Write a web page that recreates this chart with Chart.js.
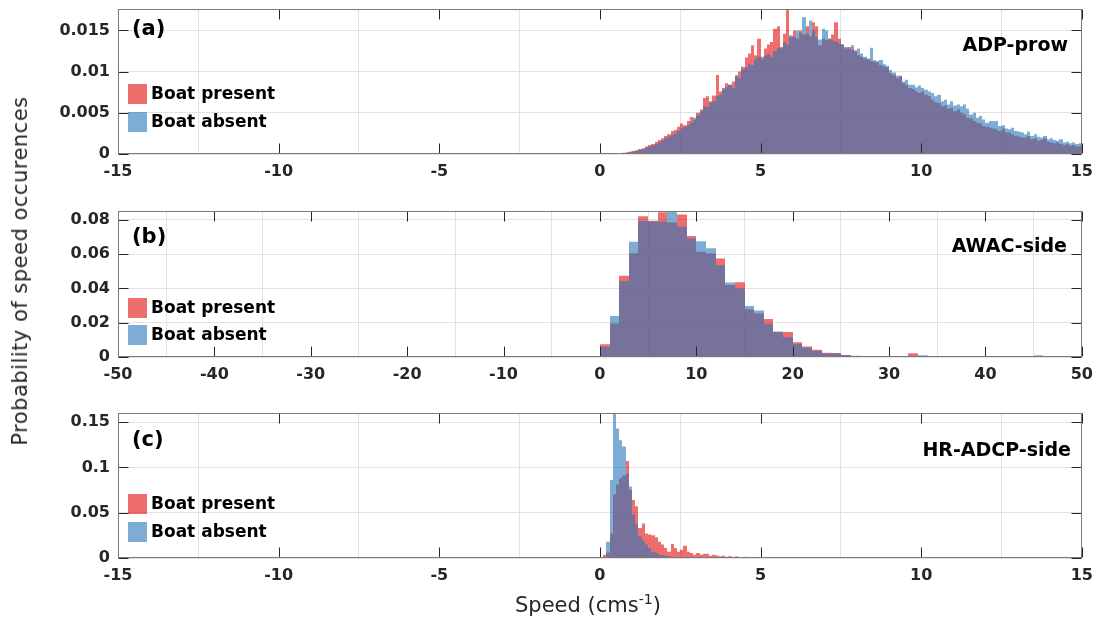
<!DOCTYPE html>
<html>
<head>
<meta charset="utf-8">
<script src="https://cdn.jsdelivr.net/npm/chart.js@4.4.1/dist/chart.umd.min.js"></script>
<style>
  html, body { margin: 0; padding: 0; background: #fff; }
  body { position: relative; width: 1101px; height: 627px; overflow: hidden; font-family: "DejaVu Sans", sans-serif; }
  canvas { position: absolute; left: 0; }
  #ytitle { position: absolute; left: 20px; top: 271px; transform: translate(-50%, -50%) rotate(-90deg);
            white-space: nowrap; font-size: 21px; letter-spacing: 0.5px; color: #262626; }
  #xtitle { position: absolute; left: 515px; top: 593px; font-size: 21px; line-height: 24px; color: #262626; white-space: nowrap; }
  #xtitle sup { font-size: 14px; line-height: 0; }
</style>
</head>
<body>
<canvas id="adp" width="1101" height="205" style="top:-20px"></canvas>
<canvas id="awac" width="1101" height="207" style="top:180px"></canvas>
<canvas id="hr" width="1101" height="215" style="top:385px"></canvas>
<div id="ytitle">Probability of speed occurences</div>
<div id="xtitle">Speed (cms<sup>-1</sup>)</div>

<script>
// ---- data ----
// (a) ADP-prow, bins of 0.1 cm/s starting at 0
const adpBinStart = 0
const adpBinWidth = 0.1
const adpPresent = [
  0, 0, 0, 0, 0.00004, 0.00007, 0.0001, 0.00015, 0.0002, 0.0003,
  0.00035, 0.00045, 0.0006, 0.0007, 0.0009, 0.0011, 0.0012, 0.0015, 0.0017, 0.0019,
  0.0022, 0.0024, 0.0028, 0.0029, 0.0033, 0.0037, 0.0035, 0.0040, 0.0045, 0.0042,
  0.0050, 0.0054, 0.0068, 0.0070, 0.0064, 0.0071, 0.0096, 0.0076, 0.0080, 0.0086,
  0.0084, 0.0088, 0.0094, 0.0100, 0.0106, 0.0117, 0.0122, 0.0132, 0.0120, 0.0140,
  0.0118, 0.0128, 0.0133, 0.0136, 0.0152, 0.0155, 0.0130, 0.0146, 0.0176, 0.0142,
  0.0150, 0.0140, 0.0150, 0.0145, 0.0155, 0.0143, 0.0160, 0.0155, 0.0132, 0.0140,
  0.0138, 0.0140, 0.0145, 0.0160, 0.0140, 0.0133, 0.0128, 0.0130, 0.0127, 0.0126,
  0.0120, 0.0118, 0.0116, 0.0115, 0.0113, 0.0112, 0.0111, 0.0108, 0.0106, 0.0105,
  0.0098, 0.0096, 0.0092, 0.0095, 0.0086, 0.0084, 0.0080, 0.0079, 0.0076, 0.0074,
  0.0076, 0.0072, 0.0070, 0.0066, 0.0063, 0.0062, 0.0058, 0.0059, 0.0055, 0.0056,
  0.0052, 0.0054, 0.0050, 0.0048, 0.0044, 0.0043, 0.0040, 0.0038, 0.0037, 0.0034,
  0.0033, 0.0032, 0.0031, 0.0030, 0.0028, 0.0031, 0.0026, 0.0026, 0.0024, 0.0022,
  0.0021, 0.0020, 0.0020, 0.0022, 0.0018, 0.0019, 0.0016, 0.0017, 0.0019, 0.0015,
  0.0014, 0.0013, 0.0014, 0.0012, 0.0011, 0.0012, 0.0010, 0.0011, 0.0009, 0.0010
]
const adpAbsent = [
  0, 0, 0, 0, 0.00003, 0.00005, 0.00008, 0.00012, 0.00015, 0.00025,
  0.0003, 0.0004, 0.0005, 0.0006, 0.0008, 0.0009, 0.0010, 0.0012, 0.0014, 0.0016,
  0.0019, 0.0021, 0.0023, 0.0025, 0.0028, 0.0031, 0.0033, 0.0035, 0.0038, 0.0044,
  0.0047, 0.0052, 0.0058, 0.0057, 0.0062, 0.0064, 0.0070, 0.0072, 0.0078, 0.0081,
  0.0084, 0.0080, 0.0096, 0.0092, 0.0103, 0.0105, 0.0109, 0.0108, 0.0115, 0.0118,
  0.0115, 0.0120, 0.0121, 0.0117, 0.0125, 0.0129, 0.0128, 0.0136, 0.0133, 0.0144,
  0.0142, 0.0150, 0.0147, 0.0166, 0.0146, 0.0162, 0.0150, 0.0142, 0.0139, 0.0152,
  0.0150, 0.0140, 0.0138, 0.0137, 0.0134, 0.0133, 0.0130, 0.0128, 0.0132, 0.0124,
  0.0128, 0.0122, 0.0118, 0.0116, 0.0129, 0.0114, 0.0113, 0.0114, 0.0109, 0.0107,
  0.0102, 0.0099, 0.0095, 0.0094, 0.0088, 0.0090, 0.0084, 0.0084, 0.0081, 0.0083,
  0.0080, 0.0078, 0.0076, 0.0074, 0.0070, 0.0072, 0.0064, 0.0066, 0.0060, 0.0064,
  0.0059, 0.0060, 0.0058, 0.0060, 0.0055, 0.0048, 0.0050, 0.0044, 0.0046, 0.0042,
  0.0038, 0.0040, 0.0040, 0.0040, 0.0034, 0.0035, 0.0031, 0.0030, 0.0032, 0.0028,
  0.0027, 0.0026, 0.0024, 0.0027, 0.0022, 0.0024, 0.0021, 0.0020, 0.0022, 0.0018,
  0.0019, 0.0017, 0.0016, 0.0018, 0.0014, 0.0015, 0.0013, 0.0014, 0.0012, 0.0013
]
const adpXTicks = [-15, -10, -5, 0, 5, 10, 15]
const adpYTicks = [0, 0.005, 0.01, 0.015]

// (b) AWAC-side, bins of 1 cm/s starting at 0
const awacBinStart = 0
const awacBinWidth = 1
const awacPresent = [
  0.0074, 0.0196, 0.0474, 0.0605, 0.0822, 0.0795, 0.0844, 0.0785, 0.0832, 0.0706,
  0.0614, 0.0604, 0.0575, 0.0420, 0.0436, 0.0278, 0.0255, 0.0222, 0.0148, 0.0146,
  0.0086, 0.0062, 0.0042, 0.0025, 0.0024, 0.0012, 0.0006, 0.0003, 0.0002, 0.0001,
  0.0001, 0.0002, 0.0022, 0.0005, 0.0001, 0.0001, 0, 0, 0, 0,
  0, 0, 0, 0, 0, 0.0002, 0, 0
]
const awacAbsent = [
  0.0060, 0.0239, 0.0443, 0.0672, 0.0794, 0.0790, 0.0789, 0.0852, 0.0760, 0.0692,
  0.0676, 0.0634, 0.0536, 0.0435, 0.0400, 0.0297, 0.0272, 0.0193, 0.0148, 0.0115,
  0.0076, 0.0054, 0.0036, 0.0020, 0.0020, 0.0012, 0.0008, 0.0005, 0.0003, 0.0002,
  0.0001, 0.0001, 0.0002, 0.0010, 0.0001, 0.0003, 0.0001, 0, 0, 0,
  0, 0, 0, 0, 0, 0.0010, 0.0003, 0.0001
]
const awacXTicks = [-50, -40, -30, -20, -10, 0, 10, 20, 30, 40, 50]
const awacYTicks = [0, 0.02, 0.04, 0.06, 0.08]

// (c) HR-ADCP-side, bins of 0.1 cm/s starting at 0
const hrBinStart = 0
const hrBinWidth = 0.1
const hrPresent = [
  0, 0.0036, 0.006, 0.027, 0.070, 0.081, 0.088, 0.091, 0.107, 0.075,
  0.064, 0.057, 0.033, 0.038, 0.027, 0.026, 0.025, 0.023, 0.018, 0.015,
  0.011, 0.007, 0.0154, 0.011, 0.007, 0.009, 0.0136, 0.007, 0.0055, 0.0037,
  0.0055, 0.0037, 0.0048, 0.0048, 0.0026, 0.0037, 0.0026, 0.0018, 0.0026, 0.0015,
  0.002, 0.0011, 0.0018, 0.001, 0.001, 0.0015, 0.0011, 0.0007, 0.0004, 0.0003
]
const hrAbsent = [
  0, 0.001, 0.018, 0.086, 0.159, 0.143, 0.130, 0.123, 0.093, 0.079,
  0.048, 0.037, 0.024, 0.019, 0.015, 0.011, 0.007, 0.0055, 0.004, 0.003,
  0.0025, 0.002, 0.0015, 0.001, 0.001, 0.0007, 0.0005, 0.0003, 0.0002, 0,
  0, 0, 0, 0, 0, 0, 0, 0, 0, 0,
  0, 0, 0, 0, 0, 0, 0, 0, 0, 0
]
const hrXTicks = [-15, -10, -5, 0, 5, 10, 15]
const hrYTicks = [0, 0.05, 0.1, 0.15]

const seriesNames = ['Boat present', 'Boat absent']

// ---- styling ----
const RED = 'rgba(227, 13, 13, 0.6)'
const BLUE = 'rgba(38, 117, 185, 0.6)'
const TEXT = '#262626'
const FONT = '"DejaVu Sans", "Liberation Sans", sans-serif'

const toBins = (values, start, width) => values.map((v, i) => ({ x: start + (i + 0.5) * width, y: v }))
const fmt = v => String(+v.toFixed(4))

// snap bar edges to whole pixels so neighbouring bins meet without light seams
// (both edges come from the bin edge value, so shared edges land on the same pixel)
const snapBars = {
  id: 'snapBars',
  beforeDatasetsDraw(chart) {
    const xs = chart.scales.x
    chart.getSortedVisibleDatasetMetas().forEach(meta => {
      const bw = chart.data.datasets[meta.index].binWidth
      meta.data.forEach((bar, i) => {
        const cx = meta.controller.getParsed(i).x
        const l = Math.round(xs.getPixelForValue(+(cx - bw / 2).toFixed(6)))
        const r = Math.round(xs.getPixelForValue(+(cx + bw / 2).toFixed(6)))
        bar.x = (l + r) / 2
        bar.width = r - l
      })
    })
  }
}

// frame, inward ticks, panel tag, instrument name and legend
const decor = {
  id: 'decor',
  afterDraw(chart, args, o) {
    const { ctx, chartArea: a } = chart
    const L = Math.round(a.left) + 0.5
    const R = Math.round(a.right) - 0.5
    const T = Math.round(a.top) + 0.5
    const B = Math.round(a.bottom) - 0.5
    ctx.save()
    ctx.lineWidth = 1
    ctx.strokeStyle = TEXT
    ctx.beginPath()
    chart.scales.x.ticks.forEach(t => {
      const px = Math.round(chart.scales.x.getPixelForValue(t.value)) + 0.5
      ctx.moveTo(px, B); ctx.lineTo(px, B - 10)
      ctx.moveTo(px, T); ctx.lineTo(px, T + 10)
    })
    chart.scales.y.ticks.forEach(t => {
      const py = Math.round(chart.scales.y.getPixelForValue(t.value)) + 0.5
      ctx.moveTo(L, py); ctx.lineTo(L + 10, py)
      ctx.moveTo(R, py); ctx.lineTo(R - 10, py)
    })
    ctx.stroke()
    ctx.strokeStyle = '#7a7a7a'
    ctx.strokeRect(L, T, R - L, B - T)

    ctx.fillStyle = '#000'
    ctx.textBaseline = 'middle'
    ctx.font = 'bold 21px ' + FONT
    ctx.textAlign = 'left'
    ctx.fillText(o.tag, 132, a.top + o.tagDy)
    ctx.font = 'bold 19px ' + FONT
    ctx.textAlign = 'right'
    ctx.fillText(o.name, o.nameX, a.top + o.nameDy)

    ctx.textAlign = 'left'
    ctx.font = 'bold 17px ' + FONT
    const colors = [RED, BLUE]
    o.legendDy.forEach((dy, i) => {
      const cy = a.top + dy
      ctx.fillStyle = colors[i]
      ctx.fillRect(128, cy - 10, 19, 20)
      ctx.fillStyle = '#000'
      ctx.fillText(seriesNames[i], 151, cy + 1)
    })
    ctx.restore()
  }
}

function makePanel(id, cfg) {
  const ticksFont = { family: FONT, size: 16, weight: 'bold' }
  const ds = (label, values, color, order) => ({
    label,
    data: toBins(values, cfg.binStart, cfg.binWidth),
    binWidth: cfg.binWidth,
    backgroundColor: color,
    borderWidth: 0,
    barPercentage: 1,
    categoryPercentage: 1,
    inflateAmount: 0,
    grouped: false,
    order
  })
  return new Chart(document.getElementById(id), {
    type: 'bar',
    data: {
      datasets: [
        ds(seriesNames[0], cfg.present, RED, 1),
        ds(seriesNames[1], cfg.absent, BLUE, 0)
      ]
    },
    options: {
      responsive: false,
      animation: false,
      events: [],
      layout: { padding: { top: cfg.padTop, right: 17, left: 0, bottom: 0 } },
      plugins: {
        legend: { display: false },
        tooltip: { enabled: false },
        decor: cfg.decor
      },
      scales: {
        x: {
          type: 'linear',
          offset: false,
          min: cfg.xTicks[0],
          max: cfg.xTicks[cfg.xTicks.length - 1],
          afterBuildTicks: s => { s.ticks = cfg.xTicks.map(v => ({ value: v })) },
          afterFit: s => { s.height = cfg.xHeight },
          grid: { color: '#e2e2e2', drawTicks: false },
          border: { display: false },
          ticks: { font: ticksFont, color: TEXT, padding: 8, maxRotation: 0, autoSkip: false, callback: fmt }
        },
        y: {
          min: 0,
          max: cfg.yMax,
          afterBuildTicks: s => { s.ticks = cfg.yTicks.map(v => ({ value: v })) },
          afterFit: s => { s.width = 118 },
          grid: { color: '#e2e2e2', drawTicks: false },
          border: { display: false },
          ticks: { font: ticksFont, color: TEXT, padding: 8, callback: fmt }
        }
      }
    },
    plugins: [snapBars, decor]
  })
}

makePanel('adp', {
  present: adpPresent, absent: adpAbsent, binStart: adpBinStart, binWidth: adpBinWidth,
  xTicks: adpXTicks, yTicks: adpYTicks, yMax: 0.0176, padTop: 29, xHeight: 31,
  decor: { tag: '(a)', name: 'ADP-prow', nameX: 1068, tagDy: 21, nameDy: 37, legendDy: [85, 113] }
})
makePanel('awac', {
  present: awacPresent, absent: awacAbsent, binStart: awacBinStart, binWidth: awacBinWidth,
  xTicks: awacXTicks, yTicks: awacYTicks, yMax: 0.0852, padTop: 31, xHeight: 30,
  decor: { tag: '(b)', name: 'AWAC-side', nameX: 1067, tagDy: 27, nameDy: 36, legendDy: [97, 124] }
})
makePanel('hr', {
  present: hrPresent, absent: hrAbsent, binStart: hrBinStart, binWidth: hrBinWidth,
  xTicks: hrXTicks, yTicks: hrYTicks, yMax: 0.16, padTop: 28, xHeight: 42,
  decor: { tag: '(c)', name: 'HR-ADCP-side', nameX: 1071, tagDy: 28, nameDy: 38, legendDy: [91, 119] }
})
</script>
</body>
</html>
